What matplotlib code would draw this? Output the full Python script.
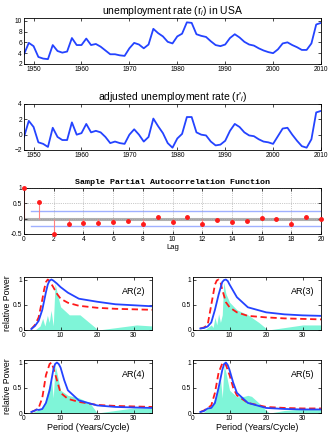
import matplotlib
matplotlib.use("Agg")
import matplotlib.pyplot as plt
import numpy as np

plt.rcParams["font.family"] = ["Liberation Sans", "DejaVu Sans"]
plt.rcParams["mathtext.fontset"] = "custom"
plt.rcParams["mathtext.rm"] = "Liberation Sans"
plt.rcParams["mathtext.it"] = "Liberation Sans:italic"

########################################################
# data

years = list(range(1948, 2011))
rate = [3.8, 5.9, 5.3, 3.3, 3.0, 2.9, 5.5, 4.4, 4.1, 4.3,
        6.8, 5.5, 5.5, 6.7, 5.5, 5.7, 5.2, 4.5, 3.8, 3.8,
        3.6, 3.5, 4.9, 5.9, 5.6, 4.9, 5.6, 8.5, 7.7, 7.1,
        6.1, 5.8, 7.1, 7.6, 9.7, 9.6, 7.5, 7.2, 7.0, 6.2,
        5.5, 5.3, 5.6, 6.8, 7.5, 6.9, 6.1, 5.6, 5.4, 4.9,
        4.5, 4.2, 4.0, 4.7, 5.8, 6.0, 5.5, 5.1, 4.6, 4.6,
        5.8, 9.3, 9.6]
adjusted = [-0.3, 1.8, 1.0, -1.0, -1.2, -1.6, 0.9, -0.3, -0.7, -0.7,
            1.6, 0.0, 0.2, 1.4, 0.3, 0.5, 0.3, -0.3, -1.1, -0.9,
            -1.1, -1.2, 0.0, 0.7, 0.0, -0.9, -0.3, 2.1, 1.1, 0.2,
            -1.1, -1.7, -0.5, 0.1, 2.3, 2.3, 0.3, 0.0, -0.1, -0.9,
            -1.4, -1.3, -0.8, 0.5, 1.4, 1.0, 0.3, -0.1, -0.2, -0.6,
            -0.9, -1.0, -1.2, -0.2, 0.8, 0.9, 0.0, -0.8, -1.5, -1.7,
            -0.6, 2.9, 3.1]

lags = list(range(21))
pacf = [1.0, 0.55, -0.5, -0.18, -0.15, -0.15, -0.12, -0.06, -0.16, 0.04,
        -0.11, 0.04, -0.17, -0.05, -0.10, -0.09, 0.03, 0.0, -0.18, 0.07, 0.0]
bound = 0.25

# spectra: (periods, values) per model
pgram = {
    2: ([2, 3.0, 4.4, 5.1, 5.7, 6.4, 6.9, 7.4, 8.0, 8.5, 9.2, 10.0, 10.6, 12.4, 15.3, 20.3, 30.8, 35],
        [0, 0, 0.08, 0.23, 0.08, 0.29, 0.15, 0.39, 0.08, 0.92, 0.69, 0.46, 0.42, 0.30, 0.30, 0.0, 0.10, 0.08]),
    3: ([2, 3.5, 5.0, 5.5, 6.0, 6.5, 7.0, 7.5, 8.0, 8.4, 9.0, 10.0, 12.0, 15.0, 18.0, 20.5, 30.0, 35],
        [0, 0.02, 0.10, 0.05, 0.25, 0.10, 0.32, 0.15, 0.30, 0.95, 0.72, 0.55, 0.40, 0.30, 0.15, 0.0, 0.10, 0.10]),
    4: ([2, 3.5, 4.8, 5.7, 6.5, 7.5, 8.0, 8.5, 9.0, 10.0, 12.0, 15.0, 18.0, 20.0, 25.0, 30.0, 35],
        [0, 0.05, 0.10, 0.20, 0.45, 0.69, 0.30, 0.95, 0.80, 0.45, 0.35, 0.30, 0.20, 0.0, 0.05, 0.10, 0.10]),
    5: ([2, 3.0, 4.0, 5.0, 6.0, 7.0, 7.5, 8.0, 8.5, 9.0, 10.0, 12.0, 14.0, 15.0, 16.0, 18.0, 20.0, 21.0, 25.0, 30.0, 35],
        [0, 0.02, 0.10, 0.10, 0.30, 0.50, 0.70, 0.30, 0.95, 0.80, 0.45, 0.32, 0.33, 0.35, 0.33, 0.20, 0.05, 0.0, 0.05, 0.08, 0.08]),
}
ar_fit = {
    2: ([2, 3, 4, 5, 6, 6.5, 7, 7.5, 8, 9, 10, 12, 15, 20, 25, 30, 35],
        [0.02, 0.08, 0.18, 0.40, 0.75, 0.90, 0.98, 1.0, 0.98, 0.92, 0.85, 0.74, 0.62, 0.56, 0.51, 0.49, 0.47]),
    3: ([2, 3, 4, 5, 6, 7, 8, 8.5, 9, 9.5, 10, 12, 15, 20, 25, 30, 35],
        [0.03, 0.04, 0.07, 0.15, 0.40, 0.70, 0.95, 0.99, 1.0, 0.97, 0.90, 0.65, 0.45, 0.35, 0.31, 0.29, 0.28]),
    4: ([2, 3, 3.5, 4, 5, 6, 7, 8, 8.5, 9, 9.5, 10, 11, 12, 15, 20, 25, 30, 35],
        [0.02, 0.05, 0.07, 0.06, 0.08, 0.20, 0.45, 0.85, 0.97, 1.0, 0.97, 0.90, 0.65, 0.45, 0.25, 0.15, 0.12, 0.11, 0.10]),
    5: ([2, 3, 4, 5, 6, 7, 8, 8.5, 9, 9.5, 10, 11, 12, 15, 20, 25, 30, 35],
        [0.02, 0.04, 0.09, 0.10, 0.20, 0.50, 0.85, 0.97, 1.0, 0.95, 0.85, 0.60, 0.40, 0.20, 0.10, 0.08, 0.07, 0.07]),
}
ar_true = {
    2: ([2, 3, 4, 5, 5.5, 6, 6.5, 7, 8, 9, 10, 12, 15, 20, 25, 30, 35],
        [0.02, 0.10, 0.25, 0.60, 0.80, 0.95, 1.0, 0.97, 0.85, 0.72, 0.62, 0.54, 0.48, 0.44, 0.42, 0.41, 0.40]),
    3: ([2, 3, 4, 5, 6, 6.5, 7, 7.5, 8, 9, 10, 12, 15, 20, 25, 30, 35],
        [0.03, 0.05, 0.10, 0.50, 0.90, 0.98, 1.0, 0.95, 0.80, 0.55, 0.45, 0.35, 0.28, 0.25, 0.23, 0.22, 0.21]),
    4: ([2, 3, 4, 5, 6, 7, 7.5, 8, 9, 10, 12, 15, 20, 25, 30, 35],
        [0.02, 0.05, 0.10, 0.30, 0.75, 0.97, 1.0, 0.90, 0.65, 0.40, 0.28, 0.22, 0.16, 0.14, 0.13, 0.12]),
    5: ([2, 3, 4, 5, 6, 7, 8, 8.5, 9, 10, 11, 12, 15, 20, 25, 30, 35],
        [0.02, 0.05, 0.10, 0.15, 0.40, 0.80, 0.98, 1.0, 0.95, 0.75, 0.50, 0.35, 0.20, 0.12, 0.10, 0.09, 0.09]),
}

########################################################

BLUE = "#2443ff"
RED = "#ff1a1a"
FILL = "#7ff5d8"
TICK_FS = 4.8


def style_axes(ax):
    ax.tick_params(direction="in", top=True, right=True, length=2, width=0.5,
                   labelsize=TICK_FS, pad=1.5)
    for s in ax.spines.values():
        s.set_linewidth(0.6)


W, H = 329, 434
fig = plt.figure(figsize=(W / 100, H / 100), dpi=100)


def add_ax(x0, y0, x1, y1):
    return fig.add_axes([x0 / W, 1 - y1 / H, (x1 - x0) / W, (y1 - y0) / H])


# --- raw rate
ax1 = add_ax(24, 18, 321, 64)
ax1.plot(years, rate, color=BLUE, lw=1.3)
ax1.set_xlim(1948, 2010)
ax1.set_ylim(2, 10.5)
ax1.set_yticks([2, 4, 6, 8, 10])
ax1.set_xticks(range(1950, 2011, 10))
ax1.set_title("unemployment rate (r$_i$) in USA", fontsize=7.5, pad=3)
style_axes(ax1)

# --- adjusted rate
ax2 = add_ax(24, 104, 321, 150)
ax2.plot(years, adjusted, color=BLUE, lw=1.3)
ax2.set_xlim(1948, 2010)
ax2.set_ylim(-2, 4)
ax2.set_yticks([-2, 0, 2, 4])
ax2.set_xticks(range(1950, 2011, 10))
ax2.set_title("adjusted unemployment rate (r'$_i$)", fontsize=7.5, pad=3)
style_axes(ax2)

# --- PACF
ax3 = add_ax(24, 188, 321, 234)
ax3.grid(True, linestyle=":", color="#999999", lw=0.5)
ax3.axhline(0, color="#b0b0b0", lw=2.2, zorder=1)
ax3.plot([0.5, 20], [bound, bound], color="#9fb0ff", lw=1.0, zorder=1)
ax3.plot([0.5, 20], [-bound, -bound], color="#9fb0ff", lw=1.0, zorder=1)
ax3.vlines(lags, 0, pacf, color="#ff8080", lw=0.8, zorder=2)
ax3.plot(lags, pacf, "o", color=RED, ms=2.5, zorder=3, clip_on=False)
ax3.set_xlim(0, 20)
ax3.set_ylim(-0.5, 1)
ax3.set_xticks(range(0, 21, 2))
ax3.set_yticks([-0.5, 0, 0.5, 1])
ax3.set_yticklabels(["-0.5", "0", "0.5", "1"])
ax3.set_title("Sample Partial Autocorrelation Function", fontsize=6,
              family="Liberation Mono", fontweight="bold", pad=3)
ax3.set_xlabel("Lag", fontsize=5.5, labelpad=1)
style_axes(ax3)

# --- spectra
boxes = {2: (24, 277, 152, 330), 3: (193, 277, 321, 330),
         4: (24, 360, 152, 413), 5: (193, 360, 321, 413)}
for order, box in boxes.items():
    ax = add_ax(*box)
    px, py = pgram[order]
    ax.fill_between(px, 0, py, color=FILL, lw=0, zorder=1)
    tx, ty = ar_true[order]
    ax.plot(tx, ty, color=RED, lw=1.3, ls=(0, (3.5, 2)), zorder=2)
    fx, fy = ar_fit[order]
    ax.plot(fx, fy, color=BLUE, lw=1.3, zorder=3)
    ax.text(0.86, 0.72, f"AR({order})", transform=ax.transAxes, fontsize=6.5,
            ha="center", va="center")
    ax.set_xlim(0, 35)
    ax.set_ylim(0, 1.05)
    ax.set_xticks([0, 10, 20, 30])
    ax.set_yticks([0, 0.5, 1])
    ax.set_yticklabels(["0", "0.5", "1"])
    style_axes(ax)
    if order in (2, 4):
        ax.set_ylabel("relative Power", fontsize=6.3, labelpad=0.5)
        ax.yaxis.set_label_coords(-0.092, 0.5)
    if order in (4, 5):
        ax.set_xlabel("Period (Years/Cycle)", fontsize=6.5, labelpad=1)

fig.savefig("out.png", dpi=100)
